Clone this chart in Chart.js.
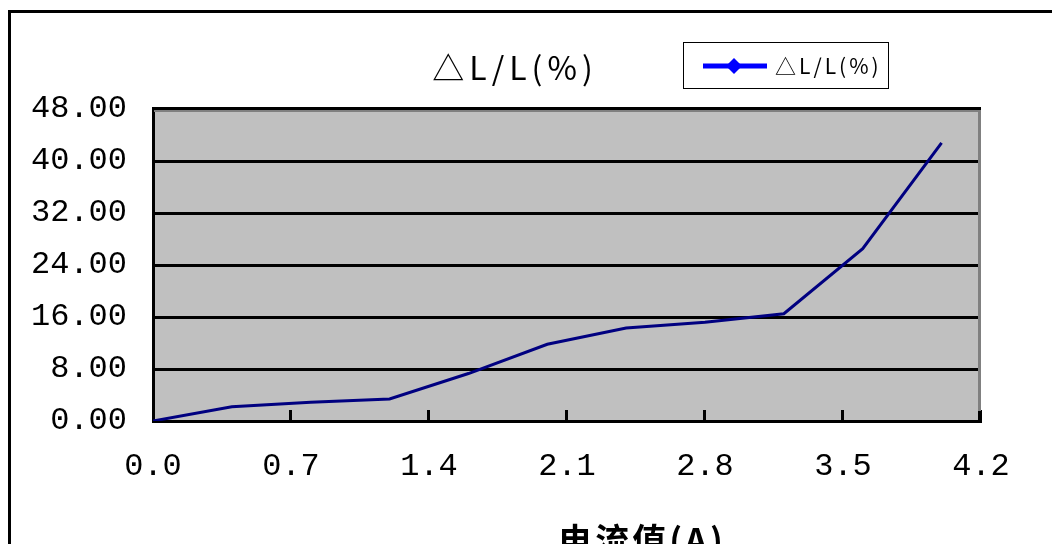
<!DOCTYPE html>
<html><head><meta charset="utf-8">
<script src="https://cdn.jsdelivr.net/npm/chart.js@4/dist/chart.umd.min.js"></script>
<style>html,body{margin:0;padding:0;background:#fff;overflow:hidden}#wrap{width:1052px;height:544px;position:relative}</style>
</head><body><div id="wrap"><canvas id="c" width="1052" height="544"></canvas></div>
<script>
const currentA = [0, 0.4, 0.8, 1.2, 1.6, 2.0, 2.4, 2.8, 3.2, 3.6, 4.0];
const deltaLL  = [0, 2.2, 2.9, 3.4, 7.3, 11.8, 14.3, 15.2, 16.5, 26.5, 42.8];
const xTicks = [0, 0.7, 1.4, 2.1, 2.8, 3.5, 4.2];
const yTicks = [0, 8, 16, 24, 32, 40, 48];
const seriesName = '△L/L(%)';
const chartTitle = '△L/L(%)';
const xTitle = '电流值(A)';

const decor = {
  id: 'decor',
  beforeDraw(chart) {
    const {ctx, chartArea: a} = chart;
    ctx.save();
    ctx.fillStyle = '#ffffff';
    ctx.fillRect(0, 0, chart.width, chart.height);
    ctx.fillStyle = '#c0c0c0';
    ctx.fillRect(a.left, a.top, a.right - a.left, a.bottom - a.top);
    ctx.restore();
  },
  afterDraw(chart) {
    const {ctx, chartArea: a} = chart;
    const xs = chart.scales.x;
    ctx.save();
    // inner tick marks on x axis
    ctx.strokeStyle = '#000';
    ctx.lineWidth = 3;
    xTicks.forEach(v => {
      if (v === 0) return;
      const px = Math.round(xs.getPixelForValue(v)) - 0.5;
      ctx.beginPath(); ctx.moveTo(px, a.bottom); ctx.lineTo(px, a.bottom - 11); ctx.stroke();
    });
    // right gray border
    ctx.strokeStyle = '#808080';
    ctx.lineWidth = 3;
    ctx.beginPath(); ctx.moveTo(a.right - 1.5, a.top); ctx.lineTo(a.right - 1.5, a.bottom - 3); ctx.stroke();
    // top border black + gray
    ctx.fillStyle = '#000';
    ctx.fillRect(a.left - 1, a.top - 2, a.right - a.left + 1, 3);
    ctx.fillStyle = '#808080';
    ctx.fillRect(a.left + 1, a.top + 1, a.right - a.left - 2, 2);
    // bottom-right corner black
    ctx.fillStyle = '#000';
    ctx.fillRect(a.right - 3, a.bottom - 10, 3, 12);
    // outer frame
    ctx.fillRect(8, 10, 3, chart.height - 10);
    ctx.fillRect(8, 10, chart.width - 8, 3);
    // title
    ctx.fillStyle = '#000';
    ctx.font = '32px "Noto Sans CJK SC", "Noto Sans", sans-serif';
    ctx.letterSpacing = '5px';
    ctx.textAlign = 'center';
    ctx.textBaseline = 'middle';
    ctx.fillText(chartTitle, 515, 68);
    // legend
    ctx.letterSpacing = '0px';
    ctx.fillStyle = '#fff';
    ctx.fillRect(683.5, 42.5, 205, 46);
    ctx.strokeStyle = '#000';
    ctx.lineWidth = 1;
    ctx.strokeRect(683.5, 42.5, 205, 46);
    ctx.strokeStyle = '#0000ff';
    ctx.lineWidth = 5;
    ctx.beginPath(); ctx.moveTo(703, 66); ctx.lineTo(767, 66); ctx.stroke();
    ctx.fillStyle = '#0000ff';
    ctx.beginPath();
    ctx.moveTo(734, 58); ctx.lineTo(742, 66); ctx.lineTo(734, 74); ctx.lineTo(726, 66); ctx.closePath(); ctx.fill();
    ctx.fillStyle = '#000';
    ctx.font = '21px "Noto Sans CJK SC", "Noto Sans", sans-serif';
    ctx.letterSpacing = '3px';
    ctx.textAlign = 'left';
    ctx.fillText(seriesName, 775, 66);
    // x axis title
    ctx.letterSpacing = '3px';
    ctx.font = 'bold 34px "Noto Sans CJK SC", sans-serif';
    ctx.textAlign = 'center';
    ctx.textBaseline = 'middle';
    ctx.fillText(xTitle, 642, 540);
    ctx.restore();
  }
};

new Chart(document.getElementById('c'), {
  type: 'line',
  data: {
    datasets: [{
      label: seriesName,
      data: currentA.map((x, i) => ({x, y: deltaLL[i]})),
      borderColor: '#000080',
      borderWidth: 3,
      pointRadius: 0,
      tension: 0,
      fill: false
    }]
  },
  options: {
    responsive: false,
    devicePixelRatio: 1,
    animation: false,
    events: [],
    layout: {padding: {left: 0, right: 71, top: 109, bottom: 0}},
    plugins: {legend: {display: false}, title: {display: false}, tooltip: {enabled: false}},
    scales: {
      x: {
        type: 'linear', min: 0, max: 4.2,
        afterBuildTicks: s => { s.ticks = xTicks.map(v => ({value: v})); },
        afterFit: s => { s.height = 123; },
        grid: {display: false, drawTicks: false},
        border: {display: true, color: '#000', width: 3},
        ticks: {
          padding: 26, maxRotation: 0, autoSkip: false,
          color: '#000',
          font: {family: '"Liberation Mono", "DejaVu Sans Mono", monospace', size: 32},
          callback: v => Number(v).toFixed(1)
        }
      },
      y: {
        type: 'linear', min: 0, max: 48,
        afterBuildTicks: s => { s.ticks = yTicks.map(v => ({value: v})); },
        afterFit: s => { s.width = 153; },
        grid: {display: true, color: '#000', lineWidth: 3, drawTicks: false},
        border: {display: true, color: '#000', width: 3},
        ticks: {
          padding: 26, autoSkip: false,
          color: '#000',
          font: {family: '"Liberation Mono", "DejaVu Sans Mono", monospace', size: 32},
          callback: v => Number(v).toFixed(2)
        }
      }
    }
  },
  plugins: [decor]
});
</script>
</body></html>
